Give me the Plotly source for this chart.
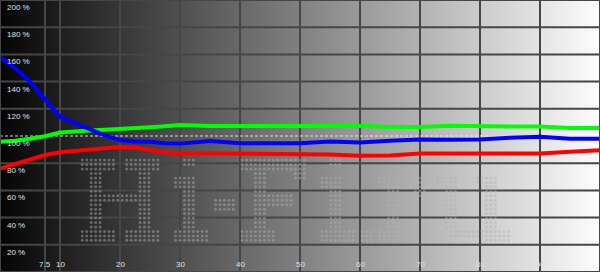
import plotly.graph_objects as go

# ---- data ----
stimulus = [0, 2.5, 5, 7.5, 10, 12.5, 15, 17.5, 20, 22.5, 25, 27.5, 30,
            35, 40, 45, 50, 55, 60, 65, 70, 75, 80, 85, 90, 95, 100]
red = [76, 79.5, 83, 86, 88, 89.1, 90, 91.2, 92, 91.5, 89.6, 88, 87.4,
       87.2, 87.2, 87.2, 87.2, 86.4, 85.4, 85.6, 87.2, 87.2, 87.2, 87.2, 87.2, 88.4, 89.6]
green = [95.8, 96.5, 98, 99.8, 102.5, 103.5, 104, 104.6, 105, 105.7, 106.4, 107.2, 108,
         107.4, 107.4, 107.4, 107.6, 107.6, 107.5, 106.6, 106.6, 107.6, 107.0, 107.0, 107.0, 105.8, 105.8]
blue = [158, 150, 140, 127, 114, 109.5, 105, 100.5, 97, 96, 95.8, 94.6, 94.4,
        96.3, 94.6, 94.6, 94.6, 96.0, 95.2, 96.5, 97.4, 97.2, 97.4, 98.8, 99.4, 98, 98]

y_ticks = [200, 180, 160, 140, 120, 100, 80, 60, 40, 20]
y_labels = ["200 %", "180 %", "160 %", "140 %", "120 %", "100 %", "80 %", "60 %", "40 %", "20 %"]
x_ticks = [7.5, 10, 20, 30, 40, 50, 60, 70, 80, 90]
x_labels = ["7.5", "10", "20", "30", "40", "50", "60", "70", "80", "90"]

# watermark bitmap "Hi-Fi.ru" (19 rows)
wm_rows = 19
W = 98
grid = [[0] * W for _ in range(wm_rows)]

def fill(r0, r1, c0, c1):
    for r in range(r0, r1 + 1):
        for c in range(c0, c1 + 1):
            grid[r][c] = 1

# H
fill(0, 2, 0, 7); fill(0, 2, 10, 17)
fill(3, 15, 2, 4); fill(3, 15, 13, 15)
fill(8, 9, 5, 12)
fill(16, 18, 0, 7); fill(16, 18, 10, 17)

def letter_i(off):
    fill(0, 1, off + 2, off + 4)
    fill(4, 6, off, off + 4)
    fill(7, 15, off + 2, off + 4)
    fill(16, 18, off, off + 7)

letter_i(21)
fill(9, 11, 30, 34)          # -
fill(0, 2, 36, 50); fill(3, 4, 48, 50)   # F
fill(3, 15, 39, 41)
fill(8, 10, 42, 47)
fill(16, 18, 36, 43)
letter_i(54)
fill(16, 18, 63, 65)         # .
fill(4, 6, 67, 77); fill(7, 8, 75, 77)   # r
fill(7, 15, 69, 71)
fill(16, 18, 67, 74)
fill(4, 5, 80, 84); fill(6, 15, 82, 84)  # u
fill(4, 5, 89, 93); fill(6, 15, 91, 93)
fill(16, 17, 83, 93); fill(16, 18, 91, 96)

wm_x0, wm_dx = 13.72, 0.74
wm_y0, wm_dy = 82.3, 3.28
wx, wy = [], []
for r in range(wm_rows):
    for c in range(W):
        if grid[r][c]:
            wx.append(wm_x0 + c * wm_dx)
            wy.append(wm_y0 - r * wm_dy)

# ---- figure ----
fig = go.Figure()

# background gradient black -> white
n = 600
gx = [(i + 0.5) * 100 / n for i in range(n)]
fig.add_trace(go.Heatmap(x=gx, y=[0, 200], z=[gx, gx], zmin=-2, zmax=101,
                         colorscale=[[0, "#000000"], [1, "#ffffff"]],
                         showscale=False, hoverinfo="skip"))

# grid lines (as traces so they sit above the gradient)
grid_col = "#464646"
hx, hy = [], []
for t in y_ticks:
    if t != 100:
        hx += [0, 100, None]; hy += [t, t, None]
for t in x_ticks + [100]:
    hx += [t, t, None]; hy += [0, 200, None]
fig.add_trace(go.Scatter(x=hx, y=hy, mode="lines", line=dict(color=grid_col, width=2),
                         hoverinfo="skip", showlegend=False))
fig.add_trace(go.Scatter(x=[0, 100], y=[100, 100], mode="lines",
                         line=dict(color="rgba(235,235,235,0.9)", width=1, dash="3px,2px"),
                         hoverinfo="skip", showlegend=False))

fig.add_trace(go.Scatter(x=wx, y=wy, mode="markers",
                         marker=dict(size=3, color="rgba(178,178,178,0.45)"),
                         hoverinfo="skip", showlegend=False))

fig.add_trace(go.Scatter(x=stimulus, y=red, mode="lines",
                         line=dict(color="#ff0000", width=4), showlegend=False))
fig.add_trace(go.Scatter(x=stimulus, y=green, mode="lines",
                         line=dict(color="#00ff00", width=4), showlegend=False))
fig.add_trace(go.Scatter(x=stimulus, y=blue, mode="lines",
                         line=dict(color="#0000ff", width=4), showlegend=False))

shapes = [dict(type="rect", xref="paper", yref="paper", x0=0, x1=1, y0=0, y1=1,
               line=dict(color=grid_col, width=2), layer="above")]

font = dict(family="Liberation Sans Narrow, Liberation Sans, Arial", size=8, color="#e0e0e0")
annotations = []
for t, lab in zip(y_ticks, y_labels):
    annotations.append(dict(x=0, y=t, xref="x", yref="y", text=lab, showarrow=False,
                            xanchor="left", yanchor="top", xshift=5, yshift=-1, font=font))
for t, lab in zip(x_ticks, x_labels):
    annotations.append(dict(x=t, y=0, xref="x", yref="y", text=lab, showarrow=False,
                            xanchor="center", yanchor="bottom", yshift=1, font=font))

fig.update_layout(
    width=600, height=272,
    margin=dict(l=0, r=0, t=0, b=0),
    paper_bgcolor="#000000", plot_bgcolor="#000000",
    xaxis=dict(range=[0, 100], showgrid=False, zeroline=False, showticklabels=False,
               ticks="", fixedrange=True),
    yaxis=dict(range=[0, 200], showgrid=False, zeroline=False, showticklabels=False,
               ticks="", fixedrange=True),
    shapes=shapes, annotations=annotations, showlegend=False,
)

fig.write_html("out.html")
